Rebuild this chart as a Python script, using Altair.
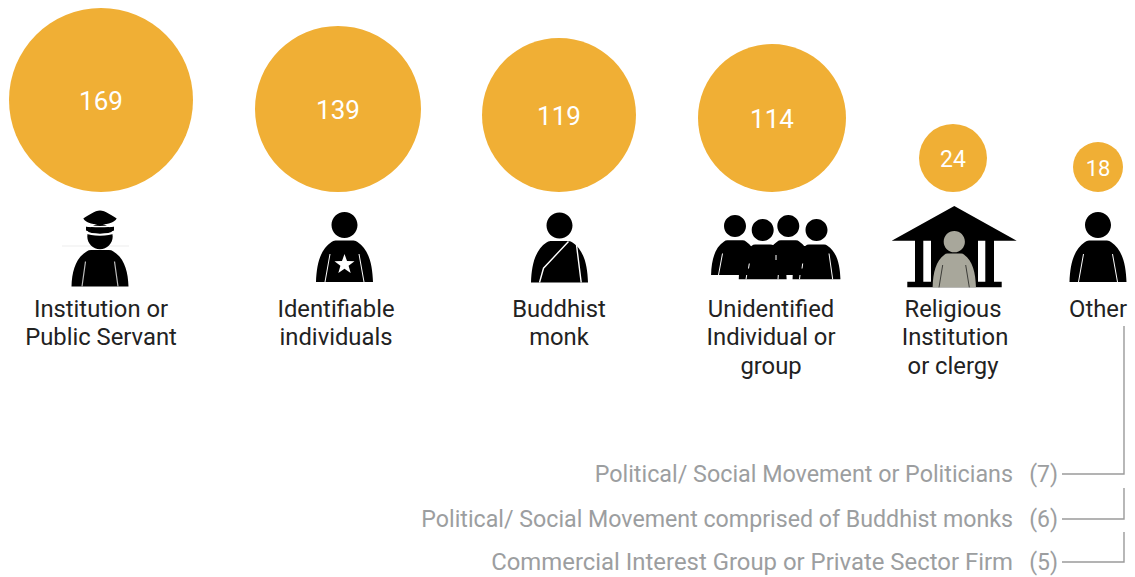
import math
import altair as alt
import pandas as pd

# Values shown in the bubbles
categories = ["Institution or Public Servant", "Identifiable individuals", "Buddhist monk",
              "Unidentified Individual or group", "Religious Institution or clergy", "Other"]
values = [169, 139, 119, 114, 24, 18]
bubble_x = [101, 338, 559, 772, 953, 1098]
bubble_bottom = 192

# Category captions, one entry per drawn line
caption_lines = ["Institution or", "Public Servant", "Identifiable", "individuals", "Buddhist", "monk",
                 "Unidentified", "Individual or", "group", "Religious", "Institution", "or clergy", "Other"]
caption_x = [101, 101, 336, 336, 559, 559, 771, 771, 771, 953, 955, 953, 1098]
caption_y = [310, 338, 310, 338, 310, 338, 310, 338, 367, 310, 338, 367, 310]

# Breakdown of "Other"
other_names = ["Political/ Social Movement or Politicians",
               "Political/ Social Movement comprised of Buddhist monks",
               "Commercial Interest Group or Private Sector Firm"]
other_counts = [7, 6, 5]
other_y = [474, 519, 562]
other_font = [23.3, 23.2, 23.9]
elbow_top = [326, 488, 532]

W, H = 1135, 577
GOLD = "#f0af35"
GREY = "#9c9ea0"
X = lambda f: alt.X(f, type="quantitative", scale=alt.Scale(domain=[0, W]), axis=None)
Y = lambda f: alt.Y(f, type="quantitative", scale=alt.Scale(domain=[H, 0]), axis=None)

# Bubble area steps for each drawn value
SIZE_DOMAIN = [18, 24, 114, 119, 139, 169]
SIZE_RANGE = [50 ** 2, 68 ** 2, 148 ** 2, 154 ** 2, 166 ** 2, 184 ** 2]
diameter = {v: math.sqrt(a) for v, a in zip(SIZE_DOMAIN, SIZE_RANGE)}

bubbles = pd.DataFrame({
    "category": categories,
    "value": values,
    "x": bubble_x,
    "y": [bubble_bottom - diameter[v] / 2 for v in values],
})

circles = alt.Chart(bubbles).mark_circle(color=GOLD, opacity=1).encode(
    x=X("x"), y=Y("y"),
    size=alt.Size("value:Q", scale=alt.Scale(domain=SIZE_DOMAIN, range=SIZE_RANGE), legend=None),
)
numbers = alt.Chart(bubbles).mark_text(
    font="Roboto", color="white", baseline="middle", align="center", dy=1.5,
).encode(
    x=X("x"), y=Y("y"), text="value:Q",
    size=alt.Size("value:Q", scale=alt.Scale(domain=[18, 24, 114, 169], range=[22, 23, 26, 26]), legend=None),
)

captions = alt.Chart(pd.DataFrame({"t": caption_lines, "x": caption_x, "y": caption_y})).mark_text(
    font="Roboto", fontSize=23.8, color="#222222", baseline="middle", align="center",
).encode(x=X("x"), y=Y("y"), text="t:N")

others = pd.DataFrame({"name": other_names, "count": [f"({c})" for c in other_counts],
                       "y": other_y, "fs": other_font, "xn": 1013, "xc": 1058})
other_text = alt.Chart(others).mark_text(
    font="Roboto", color=GREY, baseline="middle", align="right", dy=1,
).encode(x=X("xn"), y=Y("y"), text="name:N", size=alt.Size("fs:Q", scale=None))
other_count = alt.Chart(others).mark_text(
    font="Roboto", fontSize=23, color=GREY, baseline="middle", align="right", dy=1,
).encode(x=X("xc"), y=Y("y"), text="count:N")

elbow_rows = []
for k, (y0, top) in enumerate(zip(other_y, elbow_top)):
    elbow_rows += [
        {"k": k, "o": 0, "x": 1062, "y": y0},
        {"k": k, "o": 1, "x": 1124, "y": y0},
        {"k": k, "o": 2, "x": 1124, "y": top},
    ]
elbows = alt.Chart(pd.DataFrame(elbow_rows)).mark_line(color="#9a9a9a", strokeWidth=1.4).encode(
    x=X("x"), y=Y("y"), detail="k:N", order="o:Q",
)


def glyph(path, x, y, fill=None, stroke=None, width=1.0):
    # size=4 makes one unit of the path equal one pixel
    kw = {"shape": path, "size": 4, "opacity": 1}
    if fill:
        kw.update(filled=True, fill=fill, strokeWidth=0)
    else:
        kw.update(filled=False, stroke=stroke, strokeWidth=width)
    return alt.Chart(pd.DataFrame({"x": [x], "y": [y]})).mark_point(**kw).encode(x=X("x"), y=Y("y"))


def fmt(v):
    return f"{v:.2f}".rstrip("0").rstrip(".")


def head(cx, cy, r):
    k = 0.5523 * r
    pts = [(cx + r, cy), (cx + r, cy + k), (cx + k, cy + r), (cx, cy + r), (cx - k, cy + r), (cx - r, cy + k),
           (cx - r, cy), (cx - r, cy - k), (cx - k, cy - r), (cx, cy - r), (cx + k, cy - r), (cx + r, cy - k), (cx + r, cy)]
    s = f"M{fmt(pts[0][0])} {fmt(pts[0][1])}"
    for i in range(1, 13, 3):
        s += "C" + " ".join(f"{fmt(a)} {fmt(b)}" for a, b in pts[i:i + 3])
    return s + "Z"


def torso(cx=0, base=0, s=1.0, h=1.0):
    p = lambda a, b: f"{fmt(cx + a * s)} {fmt(base + b * s * h)}"
    return (f"M{p(-28.5, 0)}C{p(-28, -18)} {p(-24, -33)} {p(-13, -40)}Q{p(-11.5, -41.5)} {p(-9, -41.5)}"
            f"L{p(9, -41.5)}Q{p(11.5, -41.5)} {p(13, -40)}C{p(24, -33)} {p(28, -18)} {p(28.5, 0)}Z")


def segs(*pairs):
    return "".join(f"M{fmt(a)} {fmt(b)}L{fmt(c)} {fmt(d)}" for a, b, c, d in pairs)


PERSON = head(0, -57, 13) + torso()
ARM_LINES = segs((-14.5, -28, -19.5, 0), (14.5, -28, 19.5, 0))

star = "".join(
    ("M" if i == 0 else "L")
    + f"{fmt((10.5 if i % 2 == 0 else 4.3) * math.sin(i * math.pi / 5))} {fmt(-(10.5 if i % 2 == 0 else 4.3) * math.cos(i * math.pi / 5))}"
    for i in range(10)
) + "Z"

# Police officer
police_body = head(0, -50, 12.7) + torso(h=0.88)
police_cap = "M-16.7 -68C-12 -71 -5 -76 0 -76C5 -76 12 -71 16.7 -68C14 -64 10 -62.5 0 -62C-10 -62.5 -14 -64 -16.7 -68Z"
police_band = "M-14 -60C-8 -58.5 8 -58.5 14 -60L14 -56C8 -53 -8 -53 -14 -56Z"
police_gap = "M-14 -61C-8 -59.5 8 -59.5 14 -61"
police_gap2 = "M-14.5 -54.5C-8 -51 8 -51 14.5 -54.5"
police = [
    glyph("M-38 -40.5L29 -40.5", 100, 286.5, stroke="#e9e9e9", width=0.8),
    glyph(police_body, 100, 286.5, fill="black"),
    glyph(police_gap2, 100, 286.5, stroke="white", width=2),
    glyph(police_band + police_cap, 100, 286.5, fill="black"),
    glyph(police_gap, 100, 286.5, stroke="white", width=1.4),
    glyph(segs((-14.5, -25, -18, 0), (14.5, -25, 18, 0)), 100, 286.5, stroke="#bdbdbd", width=1.2),
]

individual = [
    glyph(PERSON, 344.5, 282, fill="black"),
    glyph(ARM_LINES, 344.5, 282, stroke="white", width=1),
    glyph(star, 344.5, 264.5, fill="white"),
]

monk = [
    glyph(PERSON, 559.5, 282.5, fill="black"),
    glyph("M9 -41L-16 -14.3L-20 0M16.7 -40L21.7 0", 559.5, 282.5, stroke="white", width=1.4),
]

# Crowd of four, back-row shoulders merging into the front row
crowd_shape = "".join(
    head(cx, cy, 11) + torso(cx, base, 0.84)
    for cx, cy, base in [(735, 226, 275), (762.7, 230, 279.3), (788.3, 226, 275), (816.5, 230, 279.3)]
)
crowd = [
    glyph(crowd_shape, 0, 0, fill="black"),
    glyph(segs((722.5, 253.5, 718.5, 275), (829, 253.5, 832.7, 279.3),
               (749.3, 263.5, 748.5, 268.5), (746.7, 275, 746, 279.3),
               (776, 255, 776, 260), (778.3, 275, 778, 279.3),
               (802.7, 263.5, 802, 268.5), (800, 275, 799.5, 279.3)), 0, 0, stroke="white", width=1),
]

# Temple with a figure standing in the doorway
temple_black = ("M954.3 206L1016.7 240.7L891.7 240.7Z"
                "M915 240L923.3 240L923.3 282L915 282Z"
                "M985.3 240L994 240L994 282L985.3 282Z"
                "M931 240L978 240L978 282L931 282Z"
                "M907.3 281.7L1001.7 281.7L1001.7 287.3L907.3 287.3Z")
temple_person = head(954.3, 241.7, 10.6) + torso(954.3, 287.3, 0.76, 1.07)
temple = [
    glyph(temple_black, 0, 0, fill="black"),
    glyph(temple_person, 0, 0, fill="#a8a79b"),
    glyph(segs((942.7, 265, 939, 287.3), (965.7, 265, 969.3, 287.3)), 0, 0, stroke="#3c3c38", width=1),
]

other_person = [
    glyph(PERSON, 1098, 282, fill="black"),
    glyph(ARM_LINES, 1098, 282, stroke="white", width=1),
]

icons = police + individual + monk + crowd + temple + other_person

chart = alt.layer(
    circles, numbers, *icons, captions, elbows, other_text, other_count,
).resolve_scale(size="independent").properties(
    width=W, height=H, padding=0, autosize=alt.AutoSizeParams(type="none"),
    background="white",
).configure_view(stroke=None)

chart.save("out.html", embed_options={"renderer": "svg", "actions": False})
